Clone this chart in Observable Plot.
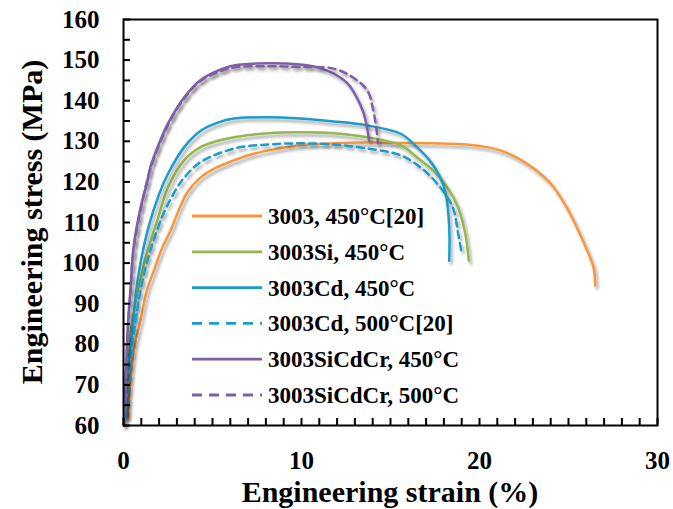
<!DOCTYPE html>
<html>
<head>
<meta charset="utf-8">
<script src="https://cdn.jsdelivr.net/npm/d3@7"></script>
<script src="https://cdn.jsdelivr.net/npm/@observablehq/plot@0.6"></script>
<style>
  body { margin: 0; background: #fff; }
  #chart svg { display: block; }
</style>
</head>
<body>
<div id="chart"></div>
<script>
// Engineering stress–strain curves of 3003-type alloys after annealing
const seriesNames = [
  "3003, 450°C[20]",
  "3003Si, 450°C",
  "3003Cd, 450°C",
  "3003Cd, 500°C[20]",
  "3003SiCdCr, 450°C",
  "3003SiCdCr, 500°C"
];
const seriesColors = ["#F8963E", "#93B84E", "#1C9CCB", "#1C9CCB", "#7E5FA5", "#7E5FA5"];
const seriesDashed = [false, false, false, true, false, true];

// strain (%) and stress (MPa) per curve
const strain3003_450 = [0.25, 0.39, 0.6, 0.96, 1.3, 1.69, 2.2, 2.64, 3.1, 3.6, 4.3, 5.2, 6.2, 7.1, 8.1, 9.9, 11.8, 13.7, 15.6, 17.4, 19.3, 20.5, 21.2, 22.1, 23.0, 24.0, 24.9, 25.8, 26.4, 26.5];
const stress3003_450 = [62, 71, 79, 86, 93, 98, 104, 108, 113, 117.5, 121, 123.5, 125.3, 126.7, 127.7, 129.0, 129.5, 129.7, 129.6, 129.5, 129.2, 128.5, 127.7, 126.0, 123.5, 119.6, 113.7, 105.6, 99.0, 94.5];

const strainSi_450 = [0.1, 0.22, 0.56, 1.1, 1.5, 1.9, 2.5, 3.4, 4.3, 5.2, 6.2, 8.1, 9.9, 11.8, 13.7, 15.6, 16.5, 17.4, 18.2, 18.8, 19.2, 19.4];
const stressSi_450 = [62, 76, 87.6, 98.9, 105, 110.5, 118.6, 125.3, 128.5, 130, 131, 132, 132.2, 132, 131, 129, 126, 122.8, 118.6, 113.7, 107.3, 100.6];

const strainCd_450 = [0.08, 0.2, 0.5, 0.79, 1.35, 2.0, 2.5, 3.4, 4.3, 5.3, 6.2, 8.1, 9.9, 11.8, 13.7, 15.6, 16.5, 17.2, 17.8, 18.1, 18.3, 18.3];
const stressCd_450 = [62, 72, 83.4, 95.7, 108, 117, 122, 128.5, 132.5, 134.6, 135.6, 135.9, 135.6, 134.9, 133.9, 131.8, 128.5, 125.3, 121.1, 117.1, 108.8, 100.6];

const strainCd_500 = [0.15, 0.4, 0.96, 1.5, 2.25, 3.0, 3.4, 4.3, 6.2, 8.1, 9.9, 11.8, 13.7, 15.6, 16.9, 17.8, 18.5, 18.8, 19.0];
const stressCd_500 = [62, 76, 93.3, 103, 112.2, 118.5, 121, 124.8, 128.2, 129.2, 129.5, 129.2, 128.2, 126.5, 122.8, 118.6, 113.7, 107.3, 102.4];

const strainSiCdCr_450 = [0.05, 0.1, 0.25, 0.4, 0.56, 0.96, 1.35, 1.5, 2.0, 2.5, 3.4, 4.3, 5.3, 6.2, 8.1, 9.9, 10.9, 11.8, 12.6, 13.1, 13.5, 13.8];
const stressSiCdCr_450 = [60, 68, 85, 94, 103.8, 113.7, 120.3, 123.5, 129.5, 134.4, 140.8, 145.0, 147.4, 148.7, 149.2, 148.9, 148.2, 146.7, 144.2, 140.8, 136.8, 130.2];

const strainSiCdCr_500 = [0.05, 0.1, 0.25, 0.4, 0.56, 0.96, 1.5, 2.5, 3.4, 4.3, 5.3, 6.2, 8.1, 9.9, 11.8, 12.9, 13.7, 14.0, 14.2, 14.3];
const stressSiCdCr_500 = [60, 67, 84, 93, 103, 113, 123, 134, 140.5, 144.8, 147, 148.2, 148.5, 148.3, 147.9, 145.7, 142.5, 138.3, 133.4, 129.5];

const seriesStrain = [strain3003_450, strainSi_450, strainCd_450, strainCd_500, strainSiCdCr_450, strainSiCdCr_500];
const seriesStress = [stress3003_450, stressSi_450, stressCd_450, stressCd_500, stressSiCdCr_450, stressSiCdCr_500];

// axis ticks and labels
const xMinorTicks = d3.range(0, 31, 1);
const xLabelTicks = [0, 10, 20, 30];
const yMinorTicks = d3.range(60, 161, 5);
const yLabelTicks = [60, 70, 80, 90, 100, 110, 120, 130, 140, 150, 160];
const xTitle = "Engineering strain (%)";
const yTitle = "Engineering stress (MPa)";

const font = "'Liberation Serif', 'Times New Roman', serif";
const W = 673, H = 509;
const mL = 123, mR = 16, mT = 19, mB = 84;
const innerW = W - mL - mR, innerH = H - mT - mB;
const tickLen = 7;

const tables = seriesNames.map((name, i) =>
  seriesStrain[i].map((s, j) => ({series: name, strain: s, stress: seriesStress[i][j]}))
);

const curveMarks = tables.map((rows, i) =>
  Plot.line(rows, {
    x: "strain", y: "stress",
    stroke: seriesColors[i],
    strokeWidth: 2.5,
    strokeDasharray: seriesDashed[i] ? "7,5" : null,
    curve: "catmull-rom"
  })
);

const plot = Plot.plot({
  width: W, height: H,
  marginLeft: mL, marginRight: mR, marginTop: mT, marginBottom: mB,
  style: {fontFamily: font, fontWeight: "bold", color: "black", background: "white"},
  x: {domain: [0, 30]},
  y: {domain: [60, 160]},
  marks: [
    ...curveMarks,
    Plot.axisX(xLabelTicks, {tickSize: 0, tickPadding: 26, fontSize: 25, label: null}),
    Plot.axisY(yLabelTicks, {tickSize: 0, tickPadding: 24, fontSize: 25, label: null}),
    Plot.frame({stroke: "black", strokeWidth: 2}),
    // inward tick marks along the bottom and left edges of the frame
    Plot.tickX(xMinorTicks, {x: d => d, insetTop: innerH - tickLen, stroke: "black", strokeWidth: 2}),
    Plot.tickY(yMinorTicks, {y: d => d, insetRight: innerW - tickLen, stroke: "black", strokeWidth: 2})
  ]
});

const svg = d3.select(plot);

// soft drop shadow under the curves
const defs = svg.insert("defs", ":first-child");
const f = defs.append("filter").attr("id", "curveShadow")
  .attr("x", "-10%").attr("y", "-10%").attr("width", "130%").attr("height", "130%");
f.append("feDropShadow").attr("dx", 2).attr("dy", 3).attr("stdDeviation", 1.8)
  .attr("flood-color", "#000").attr("flood-opacity", 0.35);
svg.selectAll("g[aria-label='line']").attr("filter", "url(#curveShadow)");

// axis titles
svg.append("text")
  .attr("x", mL + innerW / 2).attr("y", 502)
  .attr("text-anchor", "middle")
  .attr("font-size", 30).attr("font-weight", "bold").attr("font-family", font)
  .text(xTitle);
svg.append("text")
  .attr("transform", `translate(42,${mT + innerH / 2}) rotate(-90)`)
  .attr("text-anchor", "middle")
  .attr("font-size", 30).attr("font-weight", "bold").attr("font-family", font)
  .text(yTitle);

// legend
const legend = svg.append("g");
seriesNames.forEach((name, i) => {
  const y = 216 + i * 35.8;
  legend.append("line")
    .attr("x1", 192).attr("x2", 262).attr("y1", y).attr("y2", y)
    .attr("stroke", seriesColors[i]).attr("stroke-width", 2.8)
    .attr("stroke-dasharray", seriesDashed[i] ? "10,7" : null);
  legend.append("text")
    .attr("x", 268).attr("y", y + 8)
    .attr("text-anchor", "start")
    .attr("font-size", 23).attr("font-weight", "bold").attr("font-family", font)
    .text(name);
});

document.getElementById("chart").appendChild(plot);
</script>
</body>
</html>
